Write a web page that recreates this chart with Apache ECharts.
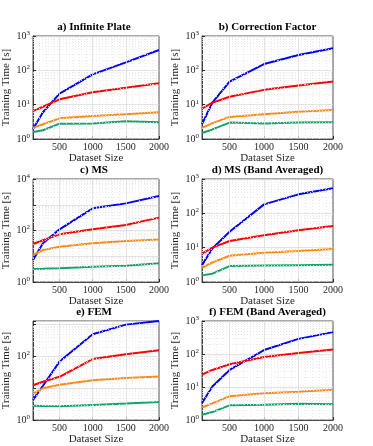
<!DOCTYPE html>
<html>
<head>
<meta charset="utf-8">
<script src="https://cdn.jsdelivr.net/npm/echarts@6/dist/echarts.min.js"></script>
<style>
  html, body { margin: 0; padding: 0; background: #fff; }
  #chart { width: 373px; height: 446px; }
</style>
</head>
<body>
<div id="chart"></div>
<script>
// dataset sizes on the x axis
const datasetSizes = [100, 250, 500, 1000, 1500, 2000];
const xTickValues = [500, 1000, 1500, 2000];

const panelTitles = [
  "a) Infinite Plate",
  "b) Correction Factor",
  "c) MS",
  "d) MS (Band Averaged)",
  "e) FEM",
  "f) FEM (Band Averaged)",
];

// training time [s] per panel, order: blue, red, orange, green
const infinitePlate = [
  [1.95, 6, 21, 76, 170, 390],
  [6.5, 8.7, 14.3, 23, 31, 42],
  [2.1, 2.7, 4.0, 4.7, 5.3, 6.0],
  [1.6, 1.8, 2.8, 2.85, 3.3, 3.1],
];
const correctionFactor = [
  [2.7, 11.4, 47, 152, 280, 437],
  [7.6, 11.4, 17, 27, 36, 47],
  [2.1, 2.9, 4.4, 5.3, 6.2, 7.0],
  [1.5, 1.9, 3.0, 2.85, 3.0, 3.1],
];
const ms = [
  [7.1, 32, 111, 725, 1130, 2190],
  [30, 42, 71, 111, 163, 316],
  [11.2, 17.5, 23.6, 32, 39, 45],
  [3.2, 3.25, 3.4, 3.9, 4.3, 5.3],
];
const msBandAveraged = [
  [3.1, 9.5, 29, 182, 357, 535],
  [6.7, 10, 15.6, 23, 32, 43],
  [2.6, 3.7, 5.8, 7.1, 8.0, 9.2],
  [1.56, 1.75, 2.9, 3.0, 3.1, 3.2],
];
const fem = [
  [4.3, 12, 69, 500, 1000, 1300],
  [12.5, 16, 23, 83, 118, 156],
  [6.8, 10, 13, 18, 21, 23.5],
  [2.8, 2.75, 2.7, 3.0, 3.3, 3.7],
];
const femBandAveraged = [
  [3.3, 10.4, 33, 132, 288, 460],
  [23.7, 33, 49, 81, 108, 138],
  [2.4, 3.2, 5.3, 6.5, 7.2, 8.3],
  [1.45, 1.75, 2.8, 2.9, 3.1, 3.0],
];
const panelData = [infinitePlate, correctionFactor, ms, msBandAveraged, fem, femBandAveraged];

// y axis upper limits and labelled decades
const yMax = [1000, 1000, 10000, 1000, 1300, 1000];
const yLabelExp = [[0, 1, 2, 3], [0, 1, 2, 3], [0, 2, 4], [0, 1, 2, 3], [0, 2], [0, 1, 2, 3]];

const lineColors = ["#0000ff", "#ff0000", "#ff8a12", "#12a26a"];
const FONT = "Liberation Serif";
const AXIS_COLOR = "#262626";

// plot boxes
const cols = [{ left: 29, width: 130 }, { left: 202, width: 131 }];
const rows = [36, 179, 321];
const plotHeight = 103;

const grid = [], xAxis = [], yAxis = [], series = [], title = [];

function pair(xs, ys) {
  return xs.map((x, i) => [x, ys[i]]);
}

panelData.forEach((lines, p) => {
  const c = cols[p % 2];
  const top = rows[Math.floor(p / 2)];
  grid.push({
    left: c.left, top: top, width: c.width, height: plotHeight,
    show: true, borderColor: AXIS_COLOR, borderWidth: 0.8,
  });
  title.push({
    text: panelTitles[p],
    left: c.left + c.width / 2,
    top: top - 14,
    textAlign: "center",
    padding: 0,
    textStyle: { fontFamily: FONT, fontSize: 11, fontWeight: "bold", color: "#000" },
  });
  xAxis.push({
    type: "value", gridIndex: p, min: 100, max: 2000,
    name: "Dataset Size", nameLocation: "middle", nameGap: 13,
    nameTextStyle: { fontFamily: FONT, fontSize: 11, color: AXIS_COLOR },
    axisLine: { lineStyle: { color: AXIS_COLOR, width: 0.8 } },
    axisTick: { inside: true, length: 3, customValues: xTickValues, lineStyle: { color: AXIS_COLOR } },
    axisLabel: {
      customValues: xTickValues, margin: 3, fontFamily: FONT, fontSize: 10, color: AXIS_COLOR,
      formatter: (v) => (xTickValues.includes(v) ? String(v) : ""),
    },
    splitLine: { show: false },
  });
  const shown = yLabelExp[p];
  yAxis.push({
    type: "log", logBase: 10, gridIndex: p, min: 1, max: yMax[p],
    name: "Training Time [s]", nameLocation: "middle", nameGap: 21,
    nameTextStyle: { fontFamily: FONT, fontSize: 11, color: AXIS_COLOR },
    axisLine: { show: true, lineStyle: { color: AXIS_COLOR, width: 0.8 } },
    axisTick: { inside: true, length: 3, lineStyle: { color: AXIS_COLOR } },
    axisLabel: {
      margin: 3, fontFamily: FONT, fontSize: 10, color: AXIS_COLOR,
      formatter: (v) => {
        const e = Math.round(Math.log10(v));
        return shown.includes(e) ? "10{s|" + e + "}" : "";
      },
      rich: { s: { fontFamily: FONT, fontSize: 7, color: AXIS_COLOR, padding: [0, 0, 6, 0] } },
    },
    splitLine: { show: true, lineStyle: { color: "#dcdcdc", width: 0.8 } },
  });

  // minor / major grid lines drawn as mark lines
  const minorY = [];
  for (let d = 1; d < yMax[p]; d *= 10) {
    for (let k = 2; k <= 9; k++) if (k * d < yMax[p]) minorY.push({ yAxis: k * d });
  }
  const minorX = [];
  for (let x = 200; x < 2000; x += 100) if (x % 500 !== 0) minorX.push({ xAxis: x });
  series.push({
    type: "line", xAxisIndex: p, yAxisIndex: p, data: [], silent: true, z: 1,
    markLine: {
      silent: true, symbol: "none", label: { show: false }, animation: false,
      lineStyle: { color: "#e4e4e4", type: [1, 2], width: 0.8 },
      data: minorY.concat(minorX),
    },
  });
  series.push({
    type: "line", xAxisIndex: p, yAxisIndex: p, data: [], silent: true, z: 1,
    markLine: {
      silent: true, symbol: "none", label: { show: false }, animation: false,
      lineStyle: { color: "#dcdcdc", type: "solid", width: 0.8 },
      data: [500, 1000, 1500].map((x) => ({ xAxis: x })),
    },
  });

  lines.forEach((ys, i) => {
    series.push({
      type: "line", xAxisIndex: p, yAxisIndex: p, z: 3,
      data: pair(datasetSizes, ys),
      showSymbol: false, animation: false,
      lineStyle: { color: lineColors[i], width: 2 },
      itemStyle: { color: lineColors[i] },
    });
  });
});

const myChart = echarts.init(document.getElementById("chart"));
myChart.setOption({
  animation: false,
  title: title,
  grid: grid,
  xAxis: xAxis,
  yAxis: yAxis,
  series: series,
});
</script>
</body>
</html>
